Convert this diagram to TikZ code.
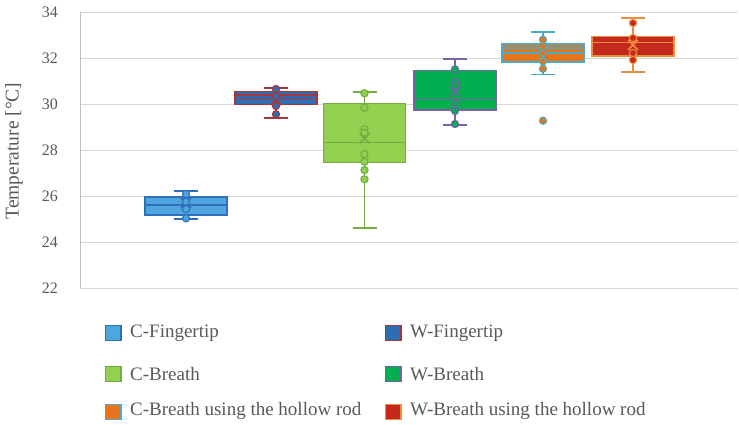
\documentclass[tikz,border=0pt]{standalone}
\usepackage{fontspec}
\setmainfont{Liberation Serif}
\definecolor{txt}{HTML}{595959}
\definecolor{grid}{HTML}{D9D9D9}
\definecolor{axis}{HTML}{BFBFBF}
\definecolor{cfF}{HTML}{4EA6DC}\definecolor{cfB}{HTML}{2F6EBA}
\definecolor{wfF}{HTML}{2E6DB4}\definecolor{wfB}{HTML}{A5373A}
\definecolor{cbF}{HTML}{92D050}\definecolor{cbB}{HTML}{74AC42}
\definecolor{wbF}{HTML}{00B050}\definecolor{wbB}{HTML}{7B62A6}
\definecolor{chF}{HTML}{E8731A}\definecolor{chB}{HTML}{4BACC6}
\definecolor{whF}{HTML}{C5291C}\definecolor{whB}{HTML}{ED8C3A}
\tikzset{
  ticklab/.style={text=txt,font=\fontsize{16}{18}\selectfont,anchor=east,inner sep=0pt},
  legtext/.style={text=txt,font=\fontsize{19}{22}\selectfont,anchor=west,inner sep=0pt},
  legsq/.style={minimum size=15.5pt,inner sep=0pt,line width=1.3pt},
  gridline/.style={grid,line width=0.8pt},
  bxline/.style={line width=1.5pt},
  whisk/.style={line width=1.9pt},
}
% \bxplot{fill}{border}{cx}{wtop}{boxtop}{boxbot}{wbot}{meany}{inner lines}
\newcommand\bxplot[9]{%
  \draw[whisk,#2] (#3,#4) -- (#3,#7);
  \draw[whisk,#2] (#3-12,#4) -- (#3+12,#4);
  \draw[whisk,#2] (#3-12,#7) -- (#3+12,#7);
  \draw[bxline,#2,fill=#1] (#3-41,#5) rectangle (#3+41,#6);
  \foreach \m in {#9} {\draw[bxline,#2] (#3-41,\m) -- (#3+41,\m);}
  \draw[bxline,#2] (#3-5,#8-5) -- (#3+5,#8+5) (#3-5,#8+5) -- (#3+5,#8-5);
}
\newcommand\bxpts[4]{%
  \foreach \p in {#4} {\draw[line width=1.1pt,#2,fill=#1] (#3,\p) circle (3.6);}
}
\begin{document}
\begin{tikzpicture}[x=1pt,y=-1pt]
\useasboundingbox[fill=white] (0,0) rectangle (739,425);
% grid
\foreach \v/\yy in {34/12,32/58,30/104,28/150,26/196,24/242,22/288} {
  \draw[gridline] (80,\yy) -- (738,\yy);
  \node[ticklab] (t\v) at (58,\yy) {\v};
}
\draw[axis,line width=0.9pt] (80,12) -- (80,288);
\node[text=txt,font=\fontsize{19.5}{22}\selectfont,rotate=90,inner sep=0pt] (ytitle) at (14,151) {Temperature [°C]};
% C-Fingertip
\bxplot{cfF}{cfB}{186}{191}{197}{215}{219}{203}{205}
\bxpts{cfF}{cfB}{186}{194,201.7,209,218.3}
% W-Fingertip
\bxplot{wfF}{wfB}{276}{88.3}{91.5}{104.5}{117.7}{100}{95,98.3}
\bxpts{wfF}{wfB}{276}{89,96.7,106,114.3}
% C-Breath
\bxplot{cbF}{cbB}{364.5}{91.7}{103.3}{162.7}{227.7}{138.3}{142.7}
\bxpts{cbF}{cbB}{364.5}{93.3,107.7,129.3,132.7,154,161.7,170,179.3}
% W-Breath
\bxplot{wbF}{wbB}{455}{59}{70.7}{110}{125.3}{91.7}{98.3}
\bxpts{wbF}{wbB}{455}{69.3,82.3,86,103.3,111,124}
% C-Breath hollow
\bxplot{chF}{chB}{543}{32.3}{44}{62}{74.5}{56.7}{48,53}
\bxpts{chF}{chB}{543}{39.7,46.3,53,61.3,68.7,120.7}
% W-Breath hollow
\bxplot{whF}{whB}{633}{18.3}{36.7}{56}{71.7}{45}{42.3}
\bxpts{whF}{whB}{633}{23,38,53,60}
% legend
\node[legsq,draw=cfB,fill=cfF] (l1) at (113.3,333) {};
\node[legtext] (l1t) at (130,333) {C-Fingertip};
\node[legsq,draw=cbB,fill=cbF] (l3) at (113.3,374) {};
\node[legtext] (l3t) at (130,374) {C-Breath};
\node[legsq,draw=chB,fill=chF] (l5) at (113.3,412) {};
\node[legtext] (l5t) at (130,411) {C-Breath using the hollow rod};
\node[legsq,draw=wfB,fill=wfF] (l2) at (393.3,333) {};
\node[legtext] (l2t) at (410,333) {W-Fingertip};
\node[legsq,draw=wbB,fill=wbF] (l4) at (393.3,374) {};
\node[legtext] (l4t) at (410,374) {W-Breath};
\node[legsq,draw=whB,fill=whF] (l6) at (393.3,412) {};
\node[legtext] (l6t) at (410,411) {W-Breath using the hollow rod};
\end{tikzpicture}
\end{document}
